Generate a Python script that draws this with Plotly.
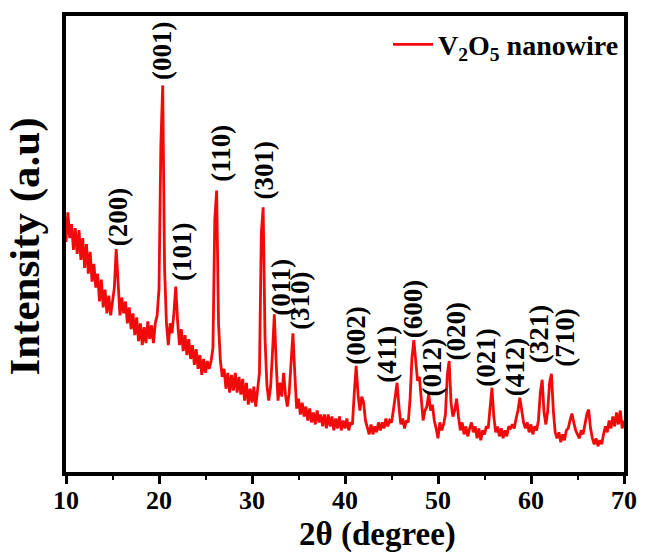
import numpy as np
import plotly.graph_objects as go

# 2-theta sampling grid (degrees), 0.2 deg steps from 10 to 70
two_theta = np.round(np.arange(10.0, 70.0001, 0.2), 1)

# Intensity (a.u.), one row per 2 degrees
intensity = [
    232, 262, 236, 250, 224, 246, 220, 244, 214, 236,   # 10.0-11.8
    206, 230, 200, 222, 192, 210, 186, 200, 172, 194,   # 12.0-13.8
    166, 184, 160, 178, 158, 172, 186, 225, 196, 158,   # 14.0-15.8
    176, 160, 172, 150, 166, 144, 160, 138, 156, 132,   # 16.0-17.8
    150, 128, 146, 130, 152, 134, 148, 130, 150, 158,   # 18.0-19.8
    185, 330, 390, 205, 150, 128, 150, 140, 160, 187,   # 20.0-21.8
    152, 128, 144, 122, 138, 118, 134, 114, 128, 108,   # 22.0-23.8
    124, 104, 118, 98, 114, 100, 112, 104, 112, 125,    # 24.0-25.8
    255, 284, 150, 112, 96, 104, 84, 100, 80, 98,       # 26.0-27.8
    82, 100, 80, 96, 78, 94, 72, 90, 68, 84,            # 28.0-29.8
    70, 86, 66, 82, 100, 240, 267, 135, 88, 72,         # 30.0-31.8
    86, 120, 159, 110, 72, 90, 76, 100, 78, 66,         # 32.0-33.8
    80, 110, 140, 100, 64, 74, 58, 70, 56, 66,          # 34.0-35.8
    52, 64, 50, 60, 48, 62, 50, 58, 46, 58,             # 36.0-37.8
    44, 58, 46, 56, 42, 54, 44, 56, 42, 52,             # 38.0-39.8
    44, 54, 42, 50, 48, 80, 107, 78, 62, 76,            # 40.0-41.8
    70, 52, 44, 38, 48, 38, 46, 40, 50, 42,             # 42.0-43.8
    50, 44, 54, 46, 52, 50, 62, 76, 90, 66,             # 44.0-45.8
    48, 54, 44, 52, 50, 74, 115, 133, 110, 92,          # 46.0-47.8
    96, 72, 52, 62, 66, 79, 62, 68, 52, 44,             # 48.0-49.8
    34, 50, 42, 48, 58, 98, 112, 70, 56, 62,            # 50.0-51.8
    74, 56, 42, 50, 38, 46, 36, 44, 50, 40,             # 52.0-53.8
    46, 34, 44, 32, 42, 38, 46, 44, 68, 85,             # 54.0-55.8
    56, 40, 46, 36, 44, 34, 42, 36, 46, 44,             # 56.0-57.8
    48, 44, 54, 62, 75, 64, 50, 44, 50, 40,             # 58.0-59.8
    48, 38, 46, 42, 52, 80, 93, 60, 48, 62,             # 60.0-61.8
    90, 99, 62, 40, 34, 40, 30, 38, 32, 42,             # 62.0-63.8
    44, 52, 59, 50, 42, 38, 34, 42, 38, 48,             # 64.0-65.8
    58, 63, 44, 34, 28, 34, 26, 32, 28, 38,             # 66.0-67.8
    46, 40, 52, 44, 56, 46, 60, 48, 62, 44,             # 68.0-69.8
    52,                                                 # 70.0
]

# Miller-index labels and where they sit (label centre 2theta, label base intensity)
peak_labels = ["(200)", "(001)", "(101)", "(110)", "(301)", "(011)", "(310)", "(002)",
               "(411)", "(600)", "(012)", "(020)", "(021)", "(412)", "(321)", "(710)"]
label_x = [15.62, 20.39, 22.40, 26.64, 31.31, 33.11, 35.23, 41.17,
           44.56, 47.32, 49.33, 51.98, 55.16, 58.23, 60.89, 63.64]
label_y = [227, 394, 192, 292, 274, 157, 142, 107,
           89, 134, 75, 112, 85, 75, 109, 105]

x_ticks = [10, 20, 30, 40, 50, 60, 70]

SERIF = "Liberation Serif, Times New Roman, serif"
RED = "#f20a0a"

fig = go.Figure()
fig.add_trace(go.Scatter(
    x=two_theta, y=intensity, mode="lines",
    line=dict(color=RED, width=2.8),
    name="V<sub>2</sub>O<sub>5</sub> nanowire",
))

for txt, lx, ly in zip(peak_labels, label_x, label_y):
    fig.add_annotation(
        x=lx, y=ly, xref="x", yref="y", text=txt, showarrow=False,
        textangle=-90, xanchor="center", yanchor="bottom",
        font=dict(family=SERIF, size=27, color="black", weight="bold"),
        borderpad=0,
    )

# axis titles
fig.add_annotation(
    x=0.558, y=-0.137, xref="paper", yref="paper", text="2θ (degree)",
    showarrow=False, xanchor="center", yanchor="middle",
    font=dict(family=SERIF, size=33, color="black", weight="bold"),
    borderpad=0,
)
fig.add_annotation(
    x=-0.0740, y=0.494, xref="paper", yref="paper", text="Intensity (a.u)",
    showarrow=False, textangle=-90, xanchor="center", yanchor="middle",
    font=dict(family=SERIF, size=43, color="black", weight="bold"),
)

fig.update_layout(
    width=649, height=557,
    margin=dict(l=66, r=17, t=12, b=85),
    paper_bgcolor="white", plot_bgcolor="white",
    font=dict(family=SERIF, color="black", weight="bold"),
    showlegend=True,
    legend=dict(
        x=1.0, y=0.992, xanchor="right", yanchor="top",
        bgcolor="rgba(0,0,0,0)", borderwidth=0,
        font=dict(family=SERIF, size=28, color="black", weight="bold"),
        itemwidth=40,
    ),
)
fig.update_xaxes(
    range=[10, 70], tickvals=x_ticks, ticktext=[str(t) for t in x_ticks],
    showline=True, linecolor="black", linewidth=4, mirror=True,
    ticks="outside", ticklen=8, tickwidth=3, tickcolor="black",
    ticklabelstandoff=-6,
    minor=dict(tickvals=[15, 25, 35, 45, 55, 65], ticks="outside", ticklen=4,
               tickwidth=2, tickcolor="black"),
    tickfont=dict(family=SERIF, size=26, color="black", weight="bold"),
    showgrid=False, zeroline=False,
)
fig.update_yaxes(
    range=[0, 460], showticklabels=False, ticks="",
    showline=True, linecolor="black", linewidth=4, mirror=True,
    showgrid=False, zeroline=False,
)

fig.write_html("out.html")
